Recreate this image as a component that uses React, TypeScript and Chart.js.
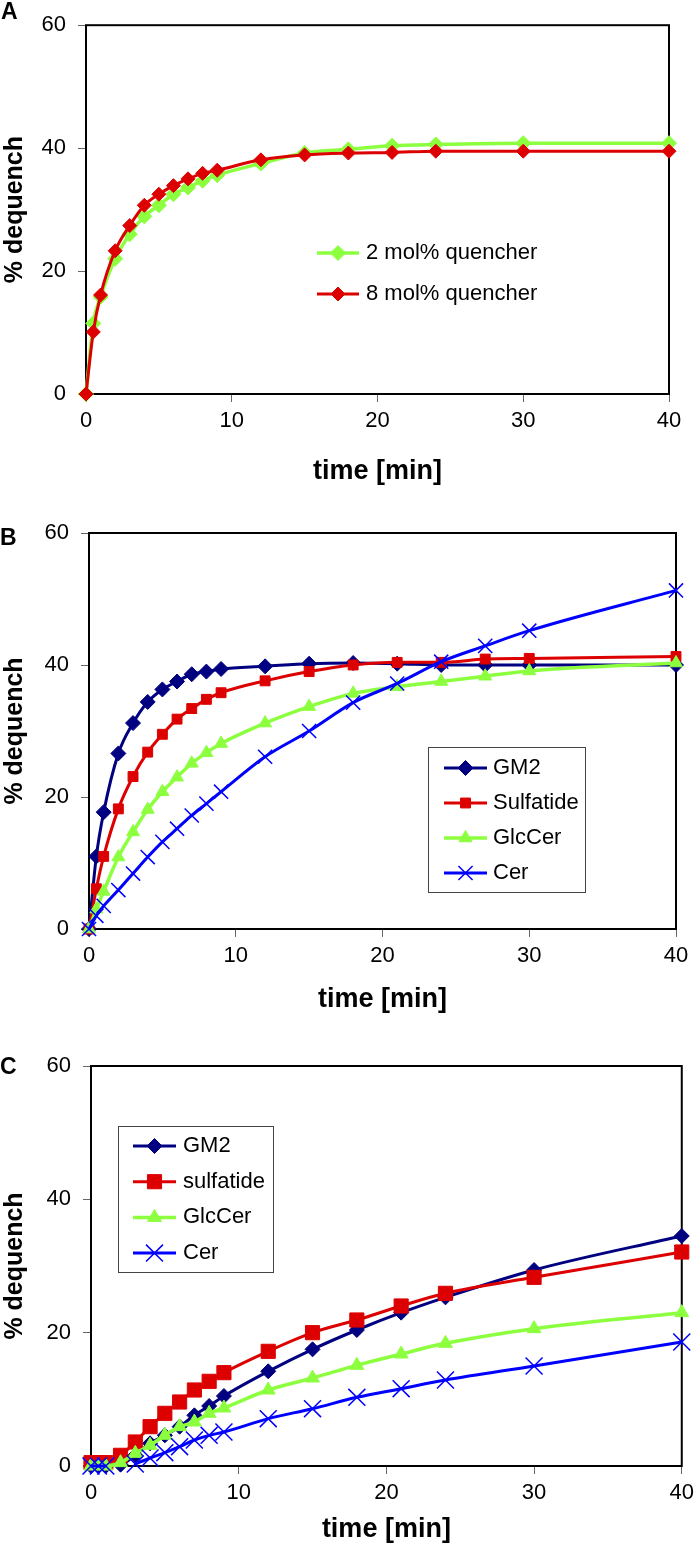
import React, { useEffect, useRef } from 'react';
import { Chart, registerables } from 'chart.js';
import { drawPoint } from 'chart.js/helpers';

Chart.register(...registerables);

const FONT = "'Liberation Sans', Arial, sans-serif";

// ---------- data ----------
const xTicks = [0, 10, 20, 30, 40];
const yTicks = [0, 20, 40, 60];

const timesA = [0, 0.5, 1, 2, 3, 4, 5, 6, 7, 8, 9, 12, 15, 18, 21, 24, 30, 40];
const quencher2 = [0, 11.5, 15.8, 22.0, 26.0, 28.9, 30.7, 32.5, 33.6, 34.7, 35.6, 37.5, 39.2, 39.8, 40.4, 40.6, 40.8, 40.8];
const quencher8 = [0, 10.1, 16.1, 23.3, 27.4, 30.7, 32.5, 33.9, 35.0, 35.9, 36.4, 38.1, 38.9, 39.2, 39.3, 39.5, 39.5, 39.5];

const timesB = [0, 0.5, 1, 2, 3, 4, 5, 6, 7, 8, 9, 12, 15, 18, 21, 24, 27, 30, 40];
const gm2B = [0, 11.0, 17.7, 26.6, 31.2, 34.4, 36.3, 37.5, 38.6, 39.0, 39.4, 39.8, 40.2, 40.3, 40.2, 40.0, 40.0, 40.0, 40.0];
const sulfatideB = [0, 6.1, 11.0, 18.2, 23.1, 26.8, 29.5, 31.8, 33.4, 34.8, 35.8, 37.6, 39.0, 40.0, 40.4, 40.4, 40.9, 41.0, 41.3];
const glcCerB = [0, 3.0, 5.7, 10.9, 14.7, 18.1, 20.8, 23.0, 25.1, 26.7, 28.1, 31.2, 33.7, 35.7, 36.7, 37.5, 38.3, 39.1, 40.3];
const cerB = [0, 2.0, 3.5, 5.9, 8.4, 10.9, 13.2, 15.2, 17.2, 19.0, 20.8, 26.1, 30.0, 34.3, 37.2, 40.5, 42.9, 45.2, 51.3];

const timesC = [0, 0.5, 1, 2, 3, 4, 5, 6, 7, 8, 9, 12, 15, 18, 21, 24, 30, 40];
const gm2C = [0, 0, 0, 0.2, 1.6, 3.4, 4.6, 5.9, 7.6, 9.0, 10.5, 14.2, 17.5, 20.4, 23.0, 25.3, 29.4, 34.5];
const sulfatideC = [0.5, 0.5, 0.5, 1.6, 3.6, 5.9, 7.9, 9.6, 11.4, 12.7, 14.0, 17.2, 20.0, 21.9, 24.0, 25.9, 28.3, 32.1];
const glcCerC = [0, 0, 0, 0.5, 1.9, 3.1, 4.6, 5.9, 6.6, 7.9, 8.7, 11.4, 13.2, 15.1, 16.8, 18.4, 20.6, 23.0];
const cerC: (number | null)[] = [0, 0, 0, null, 0.3, 1.2, 2.0, 2.9, 3.9, 4.6, 5.1, 7.1, 8.6, 10.3, 11.6, 12.9, 15.0, 18.6];

// ---------- colours ----------
const NAVY = '#000080';
const RED = '#DD0000';
const GREEN = '#8CFF3F';
const BLUE = '#0000FF';

const pts = (t: number[], v: (number | null)[]) => t.map((x, i) => ({ x, y: v[i] }));

function series(label: string, t: number[], v: (number | null)[], color: string, style: string, radius: number, lw: number, order: number, pbw = 1) {
  return {
    label,
    data: pts(t, v),
    borderColor: color,
    backgroundColor: color,
    pointBackgroundColor: color,
    pointBorderColor: color,
    pointBorderWidth: pbw,
    pointStyle: style,
    pointRadius: radius,
    borderWidth: lw,
    cubicInterpolationMode: 'monotone',
    spanGaps: false,
    clip: false,
    order,
  };
}

const framePlugin = {
  id: 'frameBox',
  beforeDatasetsDraw(chart: any) {
    const { ctx, chartArea: a } = chart;
    ctx.save();
    ctx.strokeStyle = '#000';
    ctx.lineWidth = 2;
    ctx.strokeRect(a.left, a.top, a.right - a.left, a.bottom - a.top);
    ctx.restore();
  },
};

const legendPlugin = {
  id: 'panelLegend',
  afterDraw(chart: any, _args: any, o: any) {
    if (!o || o.x === undefined) return;
    const ctx = chart.ctx;
    ctx.save();
    if (o.box) {
      ctx.fillStyle = '#fff';
      ctx.fillRect(o.box.x, o.box.y, o.box.w, o.box.h);
      ctx.strokeStyle = '#444';
      ctx.lineWidth = 1;
      ctx.strokeRect(o.box.x + 0.5, o.box.y + 0.5, o.box.w, o.box.h);
    }
    chart.data.datasets.forEach((ds: any, i: number) => {
      const y = o.y + i * o.spacing;
      ctx.strokeStyle = ds.borderColor;
      ctx.lineWidth = ds.borderWidth;
      ctx.beginPath();
      ctx.moveTo(o.x, y);
      ctx.lineTo(o.x + o.lineLen, y);
      ctx.stroke();
      ctx.fillStyle = ds.pointBackgroundColor;
      ctx.strokeStyle = ds.pointBorderColor;
      ctx.lineWidth = ds.pointBorderWidth;
      drawPoint(ctx, { pointStyle: ds.pointStyle, radius: ds.pointRadius, borderWidth: ds.pointBorderWidth, rotation: 0 } as any, o.x + o.lineLen / 2, y);
      ctx.fillStyle = '#000';
      ctx.font = `22px ${FONT}`;
      ctx.textBaseline = 'middle';
      ctx.textAlign = 'left';
      ctx.fillText(ds.label, o.x + o.lineLen + o.gap, y);
    });
    ctx.restore();
  },
};

const labelPlugin = {
  id: 'panelLabel',
  afterDraw(chart: any, _args: any, o: any) {
    if (!o || !o.text) return;
    const ctx = chart.ctx;
    ctx.save();
    ctx.fillStyle = '#000';
    ctx.font = `bold 23px ${FONT}`;
    ctx.textBaseline = 'alphabetic';
    ctx.textAlign = 'left';
    ctx.fillText(o.text, o.x, o.y + 8.2);
    ctx.restore();
  },
};

type Area = { left: number; top: number; right: number; bottom: number };

interface PanelSpec {
  top: number;
  height: number;
  area: Area;
  xTitlePad: number;
  datasets: any[];
  legend: any;
  label: any;
}

const W = 700;

function Panel({ spec }: { spec: PanelSpec }) {
  const ref = useRef<HTMLCanvasElement | null>(null);
  useEffect(() => {
    if (!ref.current) return;
    const { area, height } = spec;
    const chart = new Chart(ref.current, {
      type: 'line',
      data: { datasets: spec.datasets },
      plugins: [framePlugin, legendPlugin, labelPlugin],
      options: {
        responsive: false,
        animation: false,
        events: [],
        layout: { padding: { top: area.top, right: W - area.right, left: 0, bottom: 0 } },
        scales: {
          x: {
            type: 'linear',
            min: 0,
            max: 40,
            afterBuildTicks: (s: any) => { s.ticks = xTicks.map((v) => ({ value: v })); },
            afterFit: (s: any) => { s.height = height - area.bottom; },
            ticks: { font: { size: 22, family: FONT }, color: '#000', padding: 6, maxRotation: 0 },
            grid: { drawOnChartArea: false, drawTicks: true, tickLength: 8, color: '#666', lineWidth: 1 },
            border: { display: false },
            title: {
              display: true,
              text: 'time [min]',
              color: '#000',
              font: { size: 27, weight: 'bold', family: FONT },
              padding: { top: 0, bottom: spec.xTitlePad },
            },
          },
          y: {
            type: 'linear',
            min: 0,
            max: 60,
            afterBuildTicks: (s: any) => { s.ticks = yTicks.map((v) => ({ value: v })); },
            afterFit: (s: any) => { s.width = area.left; },
            ticks: { font: { size: 22, family: FONT }, color: '#000', padding: 12 },
            grid: { drawOnChartArea: false, drawTicks: true, tickLength: 8, color: '#666', lineWidth: 1 },
            border: { display: false },
            title: {
              display: true,
              text: '% dequench',
              color: '#000',
              font: { size: 25, weight: 'bold', family: FONT },
              padding: 0,
            },
          },
        },
        plugins: {
          legend: { display: false },
          tooltip: { enabled: false },
          panelLegend: spec.legend,
          panelLabel: spec.label,
        } as any,
      } as any,
    });
    return () => chart.destroy();
  }, [spec]);
  return (
    <canvas
      ref={ref}
      width={W}
      height={spec.height}
      style={{ position: 'absolute', left: 0, top: spec.top, width: W, height: spec.height, display: 'block' }}
    />
  );
}

const panels: PanelSpec[] = [
  {
    top: 0,
    height: 505,
    area: { left: 86, top: 10, right: 669, bottom: 394 },
    xTitlePad: 17.5,
    datasets: [
      series('2 mol% quencher', timesA, quencher2, GREEN, 'rectRot', 7.5, 3.5, 1),
      series('8 mol% quencher', timesA, quencher8, RED, 'rectRot', 7, 3, 0),
    ],
    legend: { x: 317, y: 253, spacing: 41, lineLen: 42, gap: 7 },
    label: { text: 'A', x: 1, y: 11 },
  },
  {
    top: 505,
    height: 515,
    area: { left: 89, top: 28, right: 676, bottom: 424 },
    xTitlePad: 3.8,
    datasets: [
      series('GM2', timesB, gm2B, NAVY, 'rectRot', 7.5, 3, 3),
      series('Sulfatide', timesB, sulfatideB, RED, 'rect', 7, 3, 2),
      series('GlcCer', timesB, glcCerB, GREEN, 'triangle', 7.5, 3.5, 1),
      series('Cer', timesB, cerB, BLUE, 'crossRot', 10, 3, 0, 1.5),
    ],
    legend: { x: 444, y: 263, spacing: 35, lineLen: 43, gap: 6, box: { x: 428, y: 242, w: 157, h: 145 } },
    label: { text: 'B', x: 0, y: 32 },
  },
  {
    top: 1020,
    height: 543,
    area: { left: 91, top: 46, right: 686, bottom: 446 },
    xTitlePad: 16.8,
    datasets: [
      series('GM2', timesC, gm2C, NAVY, 'rectRot', 7.5, 3, 3),
      series('sulfatide', timesC, sulfatideC, RED, 'rect', 10, 3, 2),
      series('GlcCer', timesC, glcCerC, GREEN, 'triangle', 8, 3.5, 1),
      series('Cer', timesC, cerC, BLUE, 'crossRot', 12, 3, 0, 1.5),
    ],
    legend: { x: 133, y: 126, spacing: 35.7, lineLen: 43, gap: 7, box: { x: 118, y: 106, w: 155, h: 146 } },
    label: { text: 'C', x: 0, y: 46 },
  },
];

export default function App() {
  return (
    <div style={{ position: 'absolute', left: 0, top: 0, width: W, height: 1563, background: '#fff' }}>
      {panels.map((p, i) => (
        <Panel key={i} spec={p} />
      ))}
    </div>
  );
}
